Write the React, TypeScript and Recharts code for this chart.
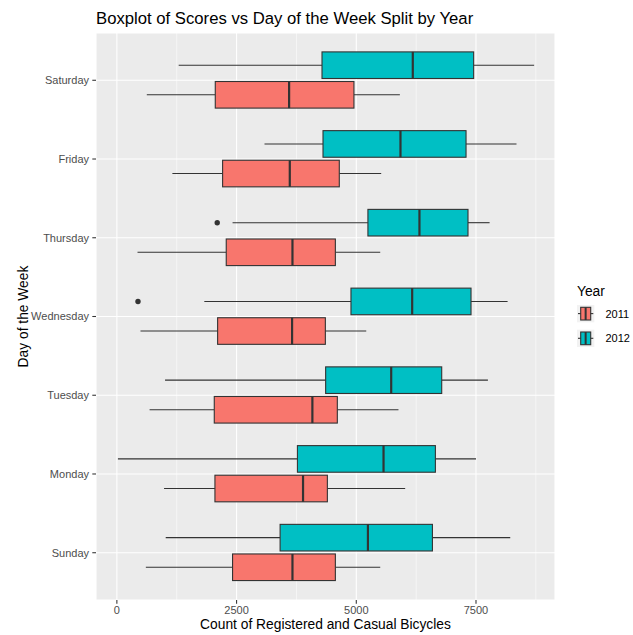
import React from 'react';
import { ComposedChart, Bar, XAxis, YAxis, CartesianGrid } from 'recharts';

const days = ['Saturday', 'Friday', 'Thursday', 'Wednesday', 'Tuesday', 'Monday', 'Sunday'];
const years = ['2011', '2012'];
const yearColors = ['#F8766D', '#00BFC4'];

// [min whisker, Q1, median, Q3, max whisker]
const stats2011 = [
  [625, 2055, 3597, 4951, 5910],
  [1159, 2208, 3611, 4645, 5520],
  [431, 2284, 3667, 4563, 5500],
  [493, 2104, 3659, 4354, 5208],
  [683, 2034, 4083, 4604, 5881],
  [985, 2048, 3888, 4396, 6021],
  [605, 2416, 3667, 4563, 5500],
];
const stats2012 = [
  [1291, 4284, 6180, 7451, 8714],
  [3083, 4305, 5923, 7292, 8346],
  [2416, 5243, 6319, 7333, 7784],
  [1826, 4889, 6167, 7396, 8160],
  [1006, 4360, 5729, 6784, 7749],
  [22, 3770, 5569, 6652, 7500],
  [1020, 3409, 5243, 6590, 8215],
];
const outliers2011: number[][] = [[], [], [], [], [], [], []];
const outliers2012: number[][] = [[], [], [2096], [441], [], [], []];

const xTicks = [0, 2500, 5000, 7500];
const xMinorTicks = [1250, 3750, 6250, 8750];
const xDomain = [-436, 9150];

const data = days.map((day, i) => ({
  day,
  r2011: [stats2011[i][0], stats2011[i][4]],
  r2012: [stats2012[i][0], stats2012[i][4]],
  s2011: stats2011[i],
  s2012: stats2012[i],
  o2011: outliers2011[i],
  o2012: outliers2012[i],
}));

const LINE = '#333333';
const FONT = '"Liberation Sans", Arial, Helvetica, sans-serif';

function makeBoxShape(fill: string, statsKey: string, outKey: string) {
  return (props: any) => {
    const { x, y, width, height, payload } = props;
    const s: number[] = payload[statsKey];
    const outs: number[] = payload[outKey] || [];
    const lo = s[0];
    const hi = s[4];
    const px = (v: number) => x + ((v - lo) / (hi - lo)) * width;
    const cy = y + height / 2;
    return (
      <g>
        <line x1={px(s[0])} x2={px(s[1])} y1={cy} y2={cy} stroke={LINE} strokeWidth={1.1} />
        <line x1={px(s[3])} x2={px(s[4])} y1={cy} y2={cy} stroke={LINE} strokeWidth={1.1} />
        <rect x={px(s[1])} y={y} width={px(s[3]) - px(s[1])} height={height} fill={fill} stroke={LINE} strokeWidth={1.1} />
        <line x1={px(s[2])} x2={px(s[2])} y1={y} y2={y + height} stroke={LINE} strokeWidth={2.2} />
        {outs.map((o, k) => (
          <circle key={k} cx={px(o)} cy={cy} r={2.7} fill={LINE} />
        ))}
      </g>
    );
  };
}

function LegendKey({ y, fill }: { y: number; fill: string }) {
  const x0 = 577;
  const cy = y + 8.6;
  return (
    <g>
      <rect x={x0} y={y} width={17.3} height={17.3} fill="#F2F2F2" />
      <line x1={x0 + 1} x2={x0 + 16.3} y1={cy} y2={cy} stroke={LINE} strokeWidth={1.1} />
      <rect x={x0 + 3.7} y={y + 2.3} width={10} height={12.7} fill={fill} stroke={LINE} strokeWidth={1.1} />
      <line x1={x0 + 8.65} x2={x0 + 8.65} y1={y + 2.3} y2={y + 15} stroke={LINE} strokeWidth={2} />
    </g>
  );
}

export default function App() {
  return (
    <div style={{ position: 'absolute', left: 0, top: 0, width: 633, height: 635, background: '#FFFFFF', fontFamily: FONT }}>
      <ComposedChart
        layout="vertical"
        width={633}
        height={635}
        data={data}
        margin={{ top: 33, right: 78, bottom: 0, left: 0 }}
        barSize={26.6}
        barGap={3}
      >
        <CartesianGrid fill="#EBEBEB" stroke="#FFFFFF" strokeWidth={1.07} horizontal vertical />
        <CartesianGrid stroke="#FFFFFF" strokeWidth={0.53} horizontal={false} vertical verticalValues={xMinorTicks} />
        <XAxis
          type="number"
          domain={xDomain}
          allowDataOverflow
          ticks={xTicks}
          height={35}
          axisLine={false}
          tickSize={3.7}
          tickMargin={2.5}
          tickLine={{ stroke: LINE, strokeWidth: 1.07 }}
          tick={{ fill: '#4D4D4D', fontSize: 11 }}
        />
        <YAxis
          type="category"
          dataKey="day"
          width={96}
          axisLine={false}
          tickSize={3.7}
          tickMargin={3.3}
          padding={{ top: 7.9, bottom: 7.9 }}
          tickLine={{ stroke: LINE, strokeWidth: 1.07 }}
          tick={{ fill: '#4D4D4D', fontSize: 11 }}
        />
        <Bar dataKey="r2012" name={years[1]} isAnimationActive={false} shape={makeBoxShape(yearColors[1], 's2012', 'o2012')} />
        <Bar dataKey="r2011" name={years[0]} isAnimationActive={false} shape={makeBoxShape(yearColors[0], 's2011', 'o2011')} />
      </ComposedChart>
      <svg width={633} height={635} style={{ position: 'absolute', left: 0, top: 0, pointerEvents: 'none' }}>
        <text x={96} y={23.5} fontSize={16.7} fill="#000000" fontFamily={FONT}>
          Boxplot of Scores vs Day of the Week Split by Year
        </text>
        <text x={325.5} y={628.5} fontSize={13.8} fill="#000000" textAnchor="middle" fontFamily={FONT}>
          Count of Registered and Casual Bicycles
        </text>
        <text x={0} y={0} fontSize={13.8} fill="#000000" textAnchor="middle" fontFamily={FONT} transform="translate(27.5,316.5) rotate(-90)">
          Day of the Week
        </text>
        <text x={577} y={296} fontSize={13.8} fill="#000000" fontFamily={FONT}>
          Year
        </text>
        <LegendKey y={305} fill={yearColors[0]} />
        <LegendKey y={329.7} fill={yearColors[1]} />
        <text x={605.5} y={317.5} fontSize={11} fill="#000000" fontFamily={FONT}>
          {years[0]}
        </text>
        <text x={605.5} y={342.2} fontSize={11} fill="#000000" fontFamily={FONT}>
          {years[1]}
        </text>
      </svg>
    </div>
  );
}
